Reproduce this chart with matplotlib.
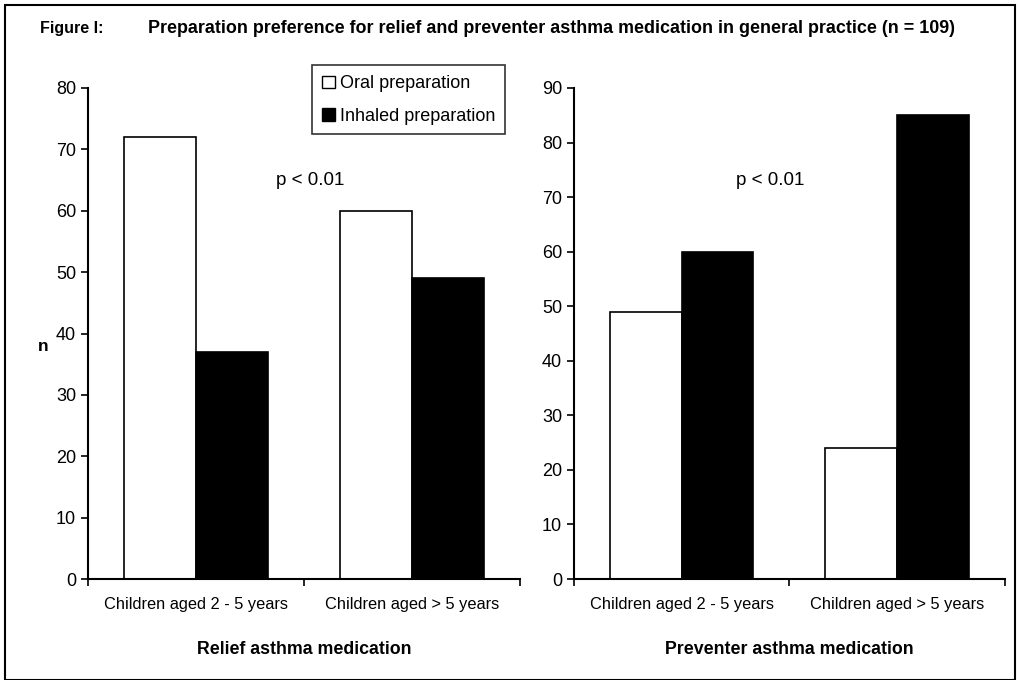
import matplotlib
matplotlib.use('Agg')
import matplotlib.pyplot as plt
from matplotlib.patches import Patch, Rectangle
import numpy as np

plt.rcParams['font.family'] = ['Liberation Sans', 'DejaVu Sans']

# data
groups = ['Children aged 2 - 5 years', 'Children aged > 5 years']
relief_oral = [72, 60]
relief_inhaled = [37, 49]
preventer_oral = [49, 24]
preventer_inhaled = [60, 85]
series_names = ['Oral preparation', 'Inhaled preparation']

fig = plt.figure(figsize=(10.2, 6.8), dpi=100)

# frame round the whole figure
fig.patches.append(Rectangle((0.005, 0.0), 0.99, 0.992, transform=fig.transFigure,
                             fill=False, edgecolor='black', linewidth=1.5))

fig.text(0.039, 0.958, 'Figure I:', fontsize=11.5, fontweight='bold', va='center')
fig.text(0.145, 0.958,
         'Preparation preference for relief and preventer asthma medication in general practice (n = 109)',
         fontsize=12.9, fontweight='bold', va='center')
fig.text(0.037, 0.49, 'n', fontsize=12.5, fontweight='bold', va='center')


def panel(rect, oral, inhaled, ymax, xlabel, p_pos):
    ax = fig.add_axes(rect)
    x = np.arange(len(groups))
    w = 1 / 3
    ax.bar(x - w / 2, oral, w, color='white', edgecolor='black', linewidth=1.2)
    ax.bar(x + w / 2, inhaled, w, color='black', edgecolor='black', linewidth=1.2)
    ax.set_xlim(-0.5, len(groups) - 0.5)
    ax.set_ylim(0, ymax)
    ax.set_yticks(np.arange(0, ymax + 1, 10))
    ax.set_xticks(x)
    ax.set_xticklabels(groups, fontsize=11.8)
    ax.set_xticks(np.arange(-0.5, len(groups), 1), minor=True)
    ax.tick_params(axis='x', which='major', length=0, pad=13)
    ax.tick_params(axis='x', which='minor', length=5, width=1.2)
    ax.tick_params(axis='y', length=5, width=1.2, labelsize=13)
    for s in ['top', 'right']:
        ax.spines[s].set_visible(False)
    for s in ['left', 'bottom']:
        ax.spines[s].set_linewidth(1.5)
    ax.set_xlabel(xlabel, fontsize=12.8, fontweight='bold', labelpad=21)
    ax.text(p_pos[0], p_pos[1], 'p < 0.01', fontsize=13.5, ha='center', va='center')
    return ax


panel([0.0863, 0.1485, 0.4237, 0.7221], relief_oral, relief_inhaled, 80,
      'Relief asthma medication', (0.53, 65))
panel([0.5627, 0.1485, 0.4223, 0.7221], preventer_oral, preventer_inhaled, 90,
      'Preventer asthma medication', (0.41, 73))

handles = [Patch(facecolor='white', edgecolor='black'),
           Patch(facecolor='black', edgecolor='black')]
leg = fig.legend(handles, series_names, loc='upper left', bbox_to_anchor=(0.306, 0.904),
                 fontsize=13, frameon=True, fancybox=False, edgecolor='black',
                 handlelength=0.7, handleheight=0.7, handletextpad=0.3,
                 borderpad=0.55, labelspacing=0.85, borderaxespad=0)
leg.get_frame().set_linewidth(1.2)

fig.savefig('out.png', dpi=100)
